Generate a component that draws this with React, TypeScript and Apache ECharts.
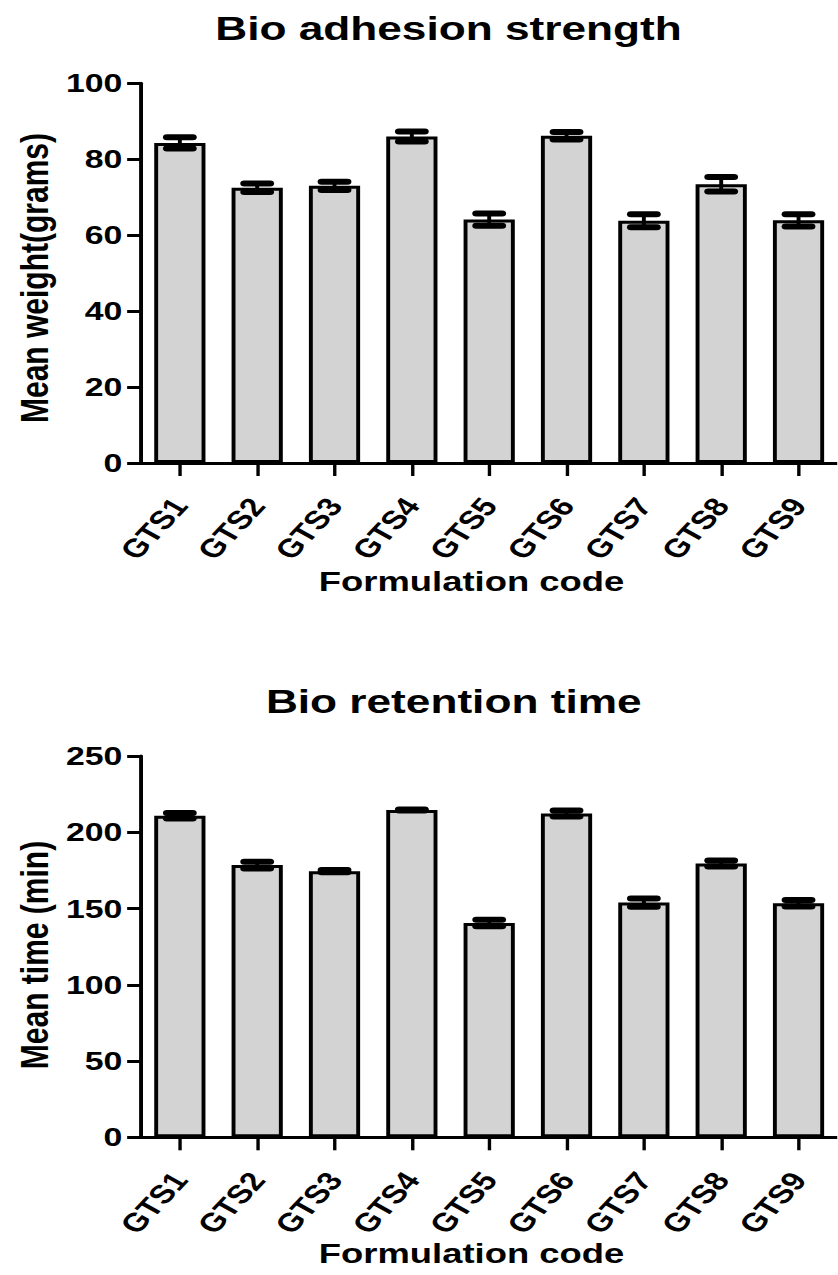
import React, { useEffect, useRef } from "react";
import * as echarts from "echarts";

const categories = ["GTS1", "GTS2", "GTS3", "GTS4", "GTS5", "GTS6", "GTS7", "GTS8", "GTS9"];
const adhesionMean = [84.3, 72.5, 73.0, 86.0, 64.1, 86.2, 63.8, 73.4, 63.9];
const adhesionSD = [1.5, 1.1, 1.1, 1.3, 1.6, 1.0, 1.7, 1.9, 1.6];
const retentionMean = [210.8, 178.5, 174.5, 214.6, 140.5, 212.3, 153.9, 179.5, 153.5];
const retentionSD = [1.8, 2.2, 0.8, 0.4, 2.2, 1.9, 2.7, 2.0, 2.1];
const adhesionTicks = { min: 0, max: 100, interval: 20 };
const retentionTicks = { min: 0, max: 250, interval: 50 };

const titles = ["Bio adhesion strength", "Bio retention time"];
const yNames = ["Mean weight(grams)", "Mean time (min)"];
const xName = "Formulation code";

const S = 1.3; // horizontal stretch of the original figure
const W = 644;
const H = 1275;
const FONT = "'Liberation Sans', Arial, Helvetica, sans-serif";

const grids = [
  { left: 108.6, width: 540.6, top: 83.3, height: 379.7 },
  { left: 108.6, width: 540.6, top: 756, height: 381.3 },
];

function errorRender(params: any, api: any) {
  const x = api.value(0);
  const m = api.value(1);
  const sd = api.value(2);
  const hi = api.coord([x, m + sd]);
  const lo = api.coord([x, m - sd]);
  const half = 10;
  return {
    type: "group",
    children: [
      { type: "line", shape: { x1: hi[0], y1: hi[1], x2: lo[0], y2: lo[1] }, style: { stroke: "#000", lineWidth: 3 } },
      { type: "line", shape: { x1: hi[0] - half, y1: hi[1], x2: hi[0] + half, y2: hi[1] }, style: { stroke: "#000", lineWidth: 6, lineCap: "round" } },
      { type: "line", shape: { x1: lo[0] - half, y1: lo[1], x2: lo[0] + half, y2: lo[1] }, style: { stroke: "#000", lineWidth: 6, lineCap: "round" } },
    ],
  };
}

export default function App() {
  const ref = useRef<HTMLDivElement>(null);
  useEffect(() => {
    document.body.style.overflow = "hidden";
    const chart = echarts.init(ref.current!, null, { renderer: "svg" });
    const xAxisCommon = {
      type: "category",
      data: categories,
      axisLine: { show: true, lineStyle: { color: "#000", width: 3 } },
      axisTick: { show: true, alignWithLabel: true, length: 13, lineStyle: { color: "#000", width: 2.6 } },
      axisLabel: { rotate: 54, margin: 38, color: "#000", fontWeight: "bold", fontSize: 26, fontFamily: FONT, interval: 0 },
      splitLine: { show: false },
    };
    const yAxisCommon = {
      type: "value",
      axisLine: { show: true, lineStyle: { color: "#000", width: 3 } },
      axisTick: { show: true, length: 10.8, lineStyle: { color: "#000", width: 3 } },
      axisLabel: { margin: 14.5, color: "#000", fontWeight: "bold", fontSize: 26, fontFamily: FONT },
      splitLine: { show: false },
    };
    const barStyle = { color: "#d3d3d3", borderColor: "#000", borderWidth: 3 };
    const txt = (text: string, x: number, y: number, size: number, rot = 0) => ({
      type: "text",
      x,
      y,
      rotation: rot,
      style: { text, fontSize: size, fontWeight: "bold", fontFamily: FONT, fill: "#000", align: "center", verticalAlign: "middle" },
    });
    chart.setOption({
      animation: false,
      backgroundColor: "#fff",
      grid: grids,
      xAxis: [
        { ...xAxisCommon, gridIndex: 0 },
        { ...xAxisCommon, gridIndex: 1 },
      ],
      yAxis: [
        { ...yAxisCommon, gridIndex: 0, ...adhesionTicks },
        { ...yAxisCommon, gridIndex: 1, ...retentionTicks },
      ],
      series: [
        { type: "bar", xAxisIndex: 0, yAxisIndex: 0, data: adhesionMean, barWidth: 39.4, itemStyle: barStyle },
        { type: "bar", xAxisIndex: 1, yAxisIndex: 1, data: retentionMean, barWidth: 39.4, itemStyle: barStyle },
        {
          type: "custom", xAxisIndex: 0, yAxisIndex: 0, z: 5, renderItem: errorRender,
          data: adhesionMean.map((m, i) => [i, m, adhesionSD[i]]),
        },
        {
          type: "custom", xAxisIndex: 1, yAxisIndex: 1, z: 5, renderItem: errorRender,
          data: retentionMean.map((m, i) => [i, m, retentionSD[i]]),
        },
      ],
      graphic: [
        txt(titles[0], 345, 28, 34),
        txt(titles[1], 349, 701, 34),
        txt(xName, 362.7, 582, 28),
        txt(xName, 362.7, 1254, 28),
        txt(yNames[0], 26.5, 278, 30, Math.PI / 2),
        txt(yNames[1], 26.5, 955, 30, Math.PI / 2),
      ],
    });
    return () => chart.dispose();
  }, []);
  return (
    <div
      style={{
        position: "absolute",
        left: 0,
        top: 0,
        width: W + "px",
        height: H + "px",
        transform: `scaleX(${S})`,
        transformOrigin: "0 0",
      }}
    >
      <div ref={ref} style={{ width: W + "px", height: H + "px" }} />
    </div>
  );
}
